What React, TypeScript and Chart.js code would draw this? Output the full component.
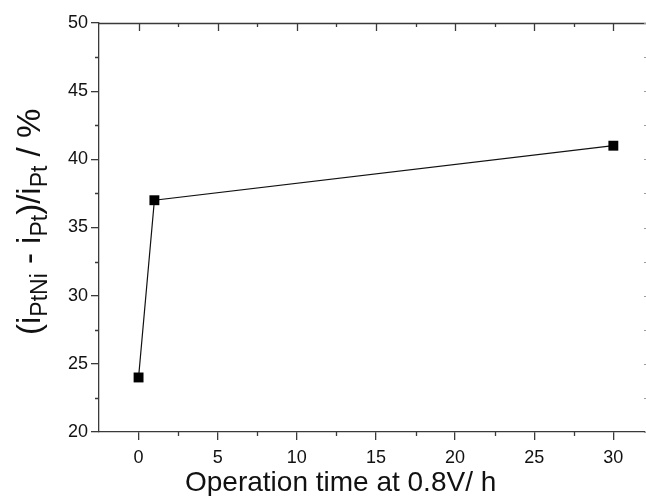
import React, { useEffect, useRef } from "react";
import { Chart, registerables } from "chart.js";

Chart.register(...registerables);

const times = [0, 1, 30];
const ratios = [24, 37, 41];
const xTickValues = [0, 5, 10, 15, 20, 25, 30];
const yTickValues = [20, 25, 30, 35, 40, 45, 50];
const xMinorValues = [-2.5, 2.5, 7.5, 12.5, 17.5, 22.5, 27.5];
const yMinorValues = [22.5, 27.5, 32.5, 37.5, 42.5, 47.5];
const xTitle = "Operation time at 0.8V/ h";
const yTitleParts: [string, boolean][] = [
  ["(i", false],
  ["PtNi", true],
  [" - i", false],
  ["Pt", true],
  [")/i", false],
  ["Pt", true],
  [" / %", false],
];

const FONT = "'Liberation Sans', Arial, sans-serif";
const AXIS_COLOR = "#3a3a3a";

const framePlugin = {
  id: "frame",
  afterDraw(chart: any) {
    const ctx = chart.ctx;
    const { left, right, top, bottom } = chart.chartArea;
    const xs = chart.scales.x;
    const ys = chart.scales.y;
    ctx.save();
    ctx.strokeStyle = AXIS_COLOR;
    ctx.lineWidth = 1.3;
    ctx.beginPath();
    ctx.moveTo(left, top + 0.5);
    ctx.lineTo(right + 1, top + 0.5);
    ctx.stroke();
    ctx.beginPath();
    xTickValues.forEach((v) => {
      const px = Math.round(xs.getPixelForValue(v)) + 0.5;
      ctx.moveTo(px, top);
      ctx.lineTo(px, top + 8);
    });
    xMinorValues.forEach((v) => {
      const px = Math.round(xs.getPixelForValue(v)) + 0.5;
      if (px <= left + 1) return;
      ctx.moveTo(px, top);
      ctx.lineTo(px, top + 4);
      ctx.moveTo(px, bottom);
      ctx.lineTo(px, bottom + 4);
    });
    ctx.stroke();
    ctx.strokeStyle = "#9a9a9a";
    ctx.lineWidth = 1;
    ctx.beginPath();
    [...yTickValues, ...yMinorValues].forEach((v) => {
      const py = Math.round(ys.getPixelForValue(v)) + 0.5;
      ctx.moveTo(right + 1, py);
      ctx.lineTo(right - 1, py);
    });
    ctx.stroke();
    ctx.strokeStyle = AXIS_COLOR;
    ctx.lineWidth = 1.3;
    ctx.beginPath();
    yMinorValues.forEach((v) => {
      const py = Math.round(ys.getPixelForValue(v)) + 0.5;
      ctx.moveTo(left, py);
      ctx.lineTo(left - 4, py);
    });
    ctx.stroke();

    ctx.fillStyle = "#111";
    ctx.font = `28px ${FONT}`;
    ctx.textAlign = "left";
    ctx.textBaseline = "alphabetic";
    ctx.fillText(xTitle, 185, 491);

    ctx.translate(40, 335);
    ctx.rotate(-Math.PI / 2);
    let cx = 0;
    yTitleParts.forEach(([t, sub]) => {
      ctx.font = sub ? `23px ${FONT}` : `33px ${FONT}`;
      ctx.fillText(t, cx, sub ? 7 : 0);
      cx += ctx.measureText(t).width;
    });
    ctx.restore();
  },
};

export default function App() {
  const ref = useRef<HTMLCanvasElement>(null);
  useEffect(() => {
    if (!ref.current) return;
    const chart = new Chart(ref.current, {
      type: "line",
      data: {
        datasets: [
          {
            data: times.map((t, i) => ({ x: t, y: ratios[i] })),
            borderColor: "#111",
            borderWidth: 1.2,
            backgroundColor: "#000",
            pointBackgroundColor: "#000",
            pointBorderColor: "#000",
            pointStyle: "rect",
            pointRadius: 7,
            pointBorderWidth: 0,
            tension: 0,
            fill: false,
          },
        ],
      },
      options: {
        responsive: false,
        animation: false,
        layout: { autoPadding: false, padding: { top: 23, right: 1, left: 0, bottom: 0 } },
        plugins: { legend: { display: false }, tooltip: { enabled: false }, title: { display: false } },
        scales: {
          x: {
            type: "linear",
            min: -2.5,
            max: 32,
            afterBuildTicks: (s: any) => {
              s.ticks = xTickValues.map((v) => ({ value: v }));
            },
            afterFit: (s: any) => {
              s.height = 64;
              s.paddingLeft = 0;
              s.paddingRight = 0;
            },
            border: { display: true, color: AXIS_COLOR, width: 1.3 },
            grid: { drawOnChartArea: false, drawTicks: true, tickLength: 8, color: AXIS_COLOR, lineWidth: 1.3 },
            ticks: { font: { family: FONT, size: 18 }, color: "#111", padding: 7, maxRotation: 0 },
          },
          y: {
            type: "linear",
            min: 20,
            max: 50,
            afterBuildTicks: (s: any) => {
              s.ticks = yTickValues.map((v) => ({ value: v }));
            },
            afterFit: (s: any) => {
              s.width = 99;
              s.paddingTop = 0;
              s.paddingBottom = 0;
            },
            border: { display: true, color: AXIS_COLOR, width: 1.3 },
            grid: { drawOnChartArea: false, drawTicks: true, tickLength: 8, color: AXIS_COLOR, lineWidth: 1.3 },
            ticks: { font: { family: FONT, size: 18 }, color: "#111", padding: 3 },
          },
        },
      },
      plugins: [framePlugin],
    });
    return () => chart.destroy();
  }, []);
  return (
    <div style={{ position: "absolute", left: 0, top: 0, width: 646, height: 496, background: "#fff" }}>
      <canvas ref={ref} width={646} height={496} style={{ display: "block" }} />
    </div>
  );
}
